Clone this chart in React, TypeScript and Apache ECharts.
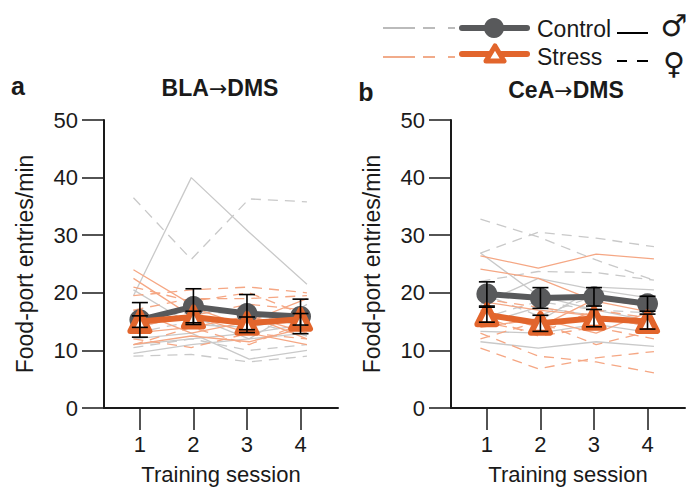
import React, { useEffect, useRef } from "react";
import * as echarts from "echarts";

const sessions = [1, 2, 3, 4];
const indivX = [0.88, 1.96, 3.04, 4.12];
const yTicks = [0, 10, 20, 30, 40, 50];

// Panel a: BLA→DMS
const aControlMean = [15.3, 17.6, 16.4, 15.9];
const aControlSem = [3.0, 3.1, 3.3, 3.0];
const aStressMean = [15.0, 15.8, 14.7, 15.4];
const aStressSem = [1.0, 1.0, 1.1, 1.0];
const aControlMale = [
  [19.5, 40, 30.5, 21.5],
  [20.5, 14.5, 14, 16],
  [12, 13, 8.5, 10],
  [11, 12, 13, 14.5],
  [14, 16, 12, 18],
  [9.5, 11, 12, 13],
];
const aControlFemale = [
  [36.5, 25.8, 36.3, 35.8],
  [9, 9.3, 8, 9],
  [16, 16.5, 16.5, 14],
  [10.5, 12, 10, 11],
  [13, 15, 15, 12.5],
];
const aStressMale = [
  [24, 18, 16, 13],
  [22.5, 16, 13, 11],
  [15, 17.5, 14, 17],
  [13, 14, 16, 12],
  [17, 13, 15, 19],
  [11, 12.5, 11.5, 14],
];
const aStressFemale = [
  [19.5, 20.5, 21, 20],
  [17, 19, 19, 19.5],
  [11, 14, 11, 15],
  [21, 18.5, 20, 16],
  [14, 16, 18, 17],
  [12, 10.5, 13, 12],
];

// Panel b: CeA→DMS
const bControlMean = [19.8, 19.1, 19.3, 18.1];
const bControlSem = [2.1, 1.8, 1.6, 1.3];
const bStressMean = [16.2, 14.7, 15.6, 15.0];
const bStressSem = [1.3, 1.4, 1.5, 1.3];
const bControlMale = [
  [26.9, 19.5, 17, 15],
  [11.5, 10.4, 11.5, 10.7],
  [13.3, 13, 14.5, 13],
  [18, 22.5, 20.5, 19],
  [16.5, 15, 21, 20.5],
  [14.5, 17.5, 16, 14],
];
const bControlFemale = [
  [32.8, 29.7, 25.7, 22.2],
  [26.9, 30.5, 29.5, 28],
  [22, 23.7, 23.5, 22.2],
  [20, 16, 19.5, 17.5],
  [15.5, 18.5, 17, 16.5],
];
const bStressMale = [
  [26.4, 24.3, 26.7, 25.9],
  [24.1, 22.5, 18.5, 16.5],
  [17, 14, 19, 17.5],
  [14, 15.5, 13, 17],
  [18.5, 17, 16, 14],
];
const bStressFemale = [
  [10.4, 6.8, 8.7, 9.8],
  [13, 9, 8, 6.1],
  [16, 12.5, 14, 12],
  [15, 13, 17, 15.5],
  [19, 17.5, 16, 14.5],
  [12, 15, 11, 13.5],
];

const panelTitleParts = [
  ["BLA", "→", "DMS"],
  ["CeA", "→", "DMS"],
];
const panelLetters = ["a", "b"];
const yAxisName = "Food-port entries/min";
const xAxisName = "Training session";
const legendGroups = ["Control", "Stress"];

const FONT = "'Liberation Sans', Arial, sans-serif";
const GREY = "#58595b";
const ORANGE = "#e2652c";
const LGREY = "#c9c9c9";
const LORANGE = "#f5a784";
const AXIS = "#1a1a1a";

function indivSeries(sets: number[][], color: string, dashed: boolean, idx: number) {
  return sets.map((vals) => ({
    type: "line",
    xAxisIndex: idx,
    yAxisIndex: idx,
    silent: true,
    symbol: "none",
    z: 1,
    lineStyle: { color, width: 1.3, type: dashed ? [10, 7] : "solid" },
    data: vals.map((v, i) => [indivX[i], v]),
  }));
}

function errSeries(mean: number[], sem: number[], idx: number) {
  return {
    type: "custom",
    xAxisIndex: idx,
    yAxisIndex: idx,
    silent: true,
    z: 10,
    encode: { x: 0, y: [1, 2] },
    data: mean.map((m, i) => [sessions[i], m - sem[i], m + sem[i]]),
    renderItem: (params: any, api: any) => {
      const x = api.value(0);
      const p1 = api.coord([x, api.value(1)]);
      const p2 = api.coord([x, api.value(2)]);
      const w = 8;
      const st = { stroke: "#000", lineWidth: 1.6 };
      return {
        type: "group",
        children: [
          { type: "line", shape: { x1: p1[0], y1: p1[1], x2: p2[0], y2: p2[1] }, style: st },
          { type: "line", shape: { x1: p1[0] - w, y1: p1[1], x2: p1[0] + w, y2: p1[1] }, style: st },
          { type: "line", shape: { x1: p2[0] - w, y1: p2[1], x2: p2[0] + w, y2: p2[1] }, style: st },
        ],
      };
    },
  };
}

function meanControl(mean: number[], idx: number) {
  return {
    type: "line",
    xAxisIndex: idx,
    yAxisIndex: idx,
    silent: true,
    z: 5,
    symbol: "circle",
    symbolSize: 21,
    itemStyle: { color: GREY },
    lineStyle: { color: GREY, width: 6 },
    data: mean.map((v, i) => [sessions[i], v]),
  };
}

function meanStress(mean: number[], idx: number) {
  return {
    type: "line",
    xAxisIndex: idx,
    yAxisIndex: idx,
    silent: true,
    z: 6,
    symbol: "triangle",
    symbolSize: 19,
    itemStyle: { color: "#fff", borderColor: ORANGE, borderWidth: 6, borderJoin: "round" },
    lineStyle: { color: ORANGE, width: 6 },
    data: mean.map((v, i) => [sessions[i], v]),
  };
}

const grids = [
  { left: 104, top: 120, width: 234, height: 288 },
  { left: 451, top: 120, width: 234, height: 288 },
];

export default function App() {
  const ref = useRef<HTMLDivElement>(null);
  useEffect(() => {
    if (!ref.current) return;
    const chart = echarts.init(ref.current, undefined, { renderer: "svg" });
    const xAxes = grids.map((_, i) => ({
      type: "value",
      gridIndex: i,
      min: 0.33,
      max: 4.7,
      name: xAxisName,
      nameLocation: "middle",
      nameGap: 55,
      nameTextStyle: { fontFamily: FONT, fontSize: 22, color: AXIS },
      axisLine: { show: true, onZero: false, lineStyle: { color: AXIS, width: 2 } },
      axisTick: { show: true, length: 22, customValues: sessions, lineStyle: { color: AXIS, width: 1.5 } },
      axisLabel: { customValues: sessions, margin: 25, fontFamily: FONT, fontSize: 22, color: AXIS },
      splitLine: { show: false },
    }));
    const yAxes = grids.map((_, i) => ({
      type: "value",
      gridIndex: i,
      min: 0,
      max: 50,
      interval: 10,
      name: yAxisName,
      nameLocation: "middle",
      nameGap: 68,
      nameTextStyle: { fontFamily: FONT, fontSize: 23, color: AXIS },
      axisLine: { show: true, lineStyle: { color: AXIS, width: 2 } },
      axisTick: { show: true, length: 22, lineStyle: { color: AXIS, width: 1.5 } },
      axisLabel: {
        margin: 26,
        fontFamily: FONT,
        fontSize: 22,
        color: AXIS,
        formatter: (v: number) => (yTicks.includes(v) ? String(v) : ""),
      },
      splitLine: { show: false },
    }));

    const series: any[] = [];
    const panels = [
      [aControlMale, aControlFemale, aStressMale, aStressFemale, aControlMean, aControlSem, aStressMean, aStressSem],
      [bControlMale, bControlFemale, bStressMale, bStressFemale, bControlMean, bControlSem, bStressMean, bStressSem],
    ] as any[];
    panels.forEach((p, idx) => {
      series.push(...indivSeries(p[0], LGREY, false, idx));
      series.push(...indivSeries(p[1], LGREY, true, idx));
      series.push(...indivSeries(p[2], LORANGE, false, idx));
      series.push(...indivSeries(p[3], LORANGE, true, idx));
      series.push(meanControl(p[4], idx));
      series.push(meanStress(p[6], idx));
      series.push(errSeries(p[4], p[5], idx));
      series.push(errSeries(p[6], p[7], idx));
    });

    const txt = (x: number, y: number, text: string, size: number, bold = false, align = "left", font = FONT) => ({
      type: "text",
      x,
      y,
      style: { text, fontFamily: font, fontSize: size, fontWeight: bold ? "bold" : "normal", fill: AXIS, align, verticalAlign: "middle" },
    });
    const title = (x: number, y: number, parts: string[]) => ({
      type: "text",
      x,
      y,
      style: {
        text: `{b|${parts[0]}}{a|${parts[1]}}{b|${parts[2]}}`,
        align: "center",
        verticalAlign: "middle",
        rich: {
          b: { fontFamily: FONT, fontSize: 23, fontWeight: "bold", fill: AXIS, color: AXIS },
          a: { fontFamily: "'DejaVu Sans', sans-serif", fontSize: 22, fontWeight: "normal", fill: AXIS, color: AXIS },
        },
      },
    });
    const ln = (x1: number, y1: number, x2: number, y2: number, stroke: string, w: number) => ({
      type: "line",
      shape: { x1, y1, x2, y2 },
      style: { stroke, lineWidth: w },
    });

    const graphic: any[] = [
      txt(18, 86, panelLetters[0], 25, true, "center"),
      txt(366, 92, panelLetters[1], 25, true, "center"),
      title(220, 88, panelTitleParts[0]),
      title(566, 90, panelTitleParts[1]),
      // legend row 1
      ln(383, 28, 415, 28, "#a5a5a5", 1.5),
      ln(423, 28, 435, 28, "#a5a5a5", 1.5),
      ln(448, 28, 455, 28, "#a5a5a5", 1.5),
      { type: "line", shape: { x1: 462, y1: 28, x2: 527, y2: 28 }, style: { stroke: GREY, lineWidth: 6, lineCap: "round" } },
      { type: "circle", shape: { cx: 494, cy: 28, r: 10 }, style: { fill: GREY } },
      txt(537, 29, legendGroups[0], 23),
      ln(617, 33, 648, 33, "#000", 2),
      txt(674, 25, "♂", 30, false, "center", "'DejaVu Sans', sans-serif"),
      // legend row 2
      ln(383, 57, 415, 57, "#ec8f63", 1.5),
      ln(423, 57, 435, 57, "#ec8f63", 1.5),
      ln(448, 57, 455, 57, "#ec8f63", 1.5),
      { type: "line", shape: { x1: 462, y1: 54, x2: 527, y2: 54 }, style: { stroke: ORANGE, lineWidth: 6, lineCap: "round" } },
      {
        type: "polygon",
        shape: { points: [[495, 46], [504, 61], [486, 61]] },
        style: { fill: "#fff", stroke: ORANGE, lineWidth: 5, lineJoin: "round" },
      },
      txt(537, 57, legendGroups[1], 23),
      ln(617, 61, 627, 61, "#000", 2),
      ln(637, 61, 648, 61, "#000", 2),
      txt(674, 63, "♀", 30, false, "center", "'DejaVu Sans', sans-serif"),
    ];

    chart.setOption({
      animation: false,
      textStyle: { fontFamily: FONT },
      grid: grids,
      xAxis: xAxes,
      yAxis: yAxes,
      series,
      graphic,
    });
    return () => chart.dispose();
  }, []);
  return <div ref={ref} style={{ width: 686, height: 493, position: "absolute", left: 0, top: 0, background: "#fff" }} />;
}
